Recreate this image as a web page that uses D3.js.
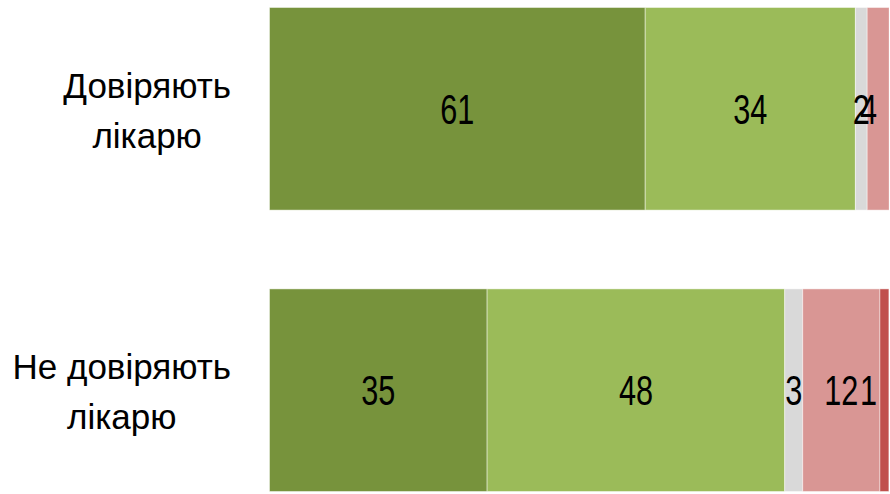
<!DOCTYPE html>
<html><head><meta charset="utf-8">
<script src="https://cdn.jsdelivr.net/npm/d3@7"></script>
<style>body{margin:0;background:#fff}svg{display:block}</style>
</head><body>
<svg id="c" width="890" height="494"></svg>
<script>
const categories = [["Довіряють", "лікарю"], ["Не довіряють", "лікарю"]];
const seriesNames = ["s1", "s2", "s3", "s4", "s5"];
const trustValues = [60.6, 33.9, 1.9, 3.55, 0];
const distrustValues = [35.1, 48.0, 2.9, 12.45, 1.45];
const colors = ["#77933C", "#9BBB59", "#D9D9D9", "#D99694", "#C0504D"];

const rows = [trustValues, distrustValues];
const fmt = d3.format(".0f");
const svg = d3.select("#c");
const x = d3.scaleLinear().domain([0, 100]).range([269.5, 889.5]);
const y = d3.scaleBand().domain(d3.range(rows.length)).range([7.5, 491.5]).paddingInner(0.28).paddingOuter(0);

svg.append("defs").append("clipPath").attr("id", "clip")
  .append("rect").attr("x", 0).attr("y", 0).attr("width", 889).attr("height", 494);

const data = rows.map(vals => {
  let acc = 0;
  return vals.map((v, i) => { const s = {v, i, x0: acc, x1: acc + v}; acc += v; return s; });
});

const g = svg.append("g").attr("clip-path", "url(#clip)");
data.forEach((segs, r) => {
  g.selectAll(null).data(segs.filter(d => d.v > 0)).enter().append("rect")
    .attr("x", d => x(d.x0)).attr("y", y(r))
    .attr("width", d => x(d.x1) - x(d.x0)).attr("height", y.bandwidth())
    .attr("fill", d => colors[d.i])
    .attr("stroke", "#fff").attr("stroke-opacity", 0.45).attr("stroke-width", 1);
});

// value labels
const maxRight = 877;
data.forEach((segs, r) => {
  const cy = y(r) + y.bandwidth() / 2;
  segs.filter(d => d.v > 0).forEach(d => {
    const t = svg.append("text").text(fmt(d.v))
      .attr("font-family", "Liberation Sans, Arial, sans-serif")
      .attr("font-size", 42).attr("fill", "#000")
      .attr("text-anchor", "middle");
    const sx = 0.73;
    const w = t.node().getComputedTextLength() * sx;
    let cx = (x(d.x0) + Math.min(x(d.x1), 889)) / 2;
    if (cx + w / 2 > maxRight) cx = maxRight - w / 2;
    t.attr("transform", `translate(${cx},${cy + 15}) scale(${sx},1)`);
  });
});

// category labels
categories.forEach((lines, r) => {
  const cy = y(r) + y.bandwidth() / 2;
  const texts = lines.map((ln, k) => svg.append("text").text(ln)
    .attr("font-family", "Liberation Sans, Arial, sans-serif")
    .attr("font-size", 35).attr("fill", "#000").attr("text-anchor", "middle")
    .attr("y", cy - 11 + k * 50));
  const maxW = d3.max(texts, t => t.node().getComputedTextLength());
  const center = 231 - maxW / 2;
  texts.forEach(t => t.attr("x", center));
});
</script>
</body></html>
